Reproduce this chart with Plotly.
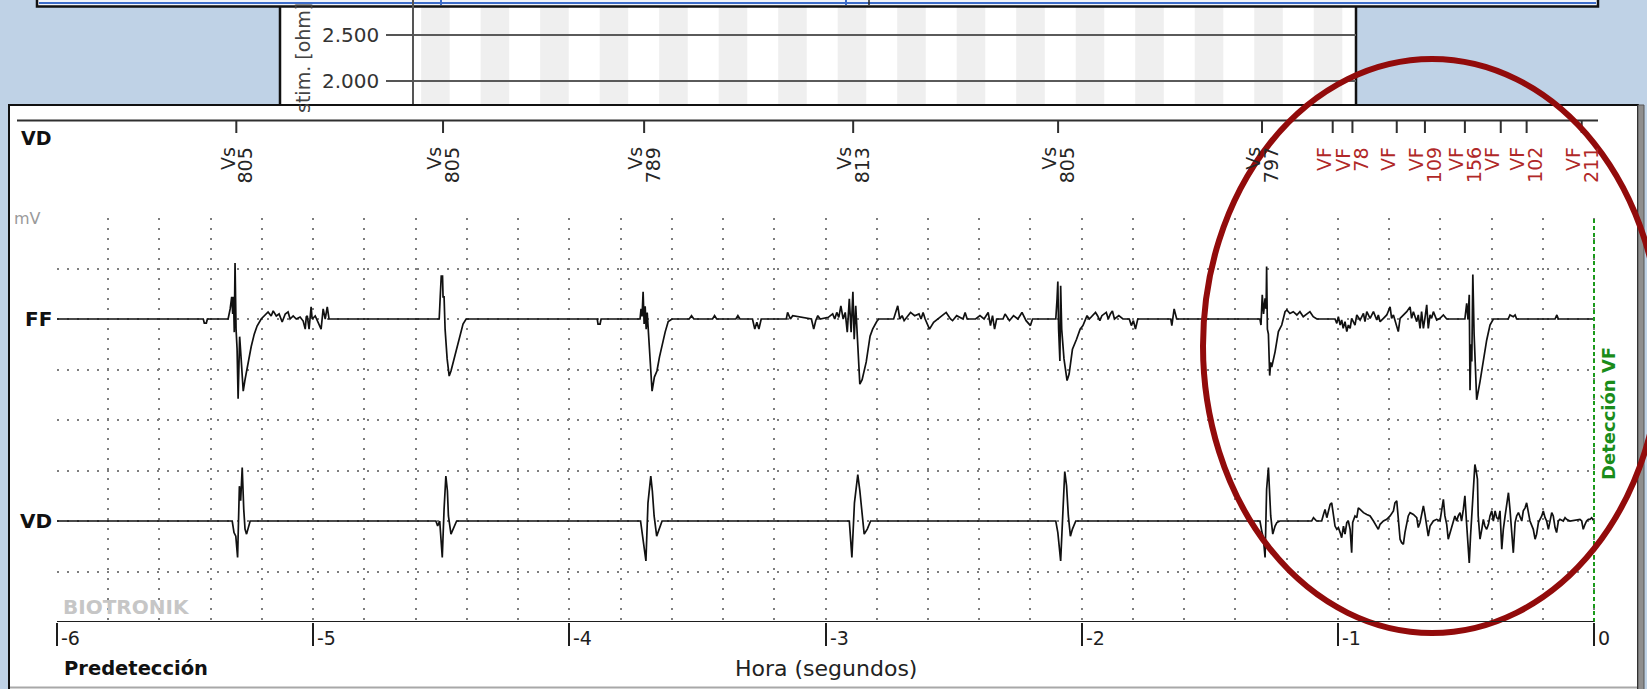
import plotly.graph_objects as go

W, H = 1647, 689


def px(x):
    return x / W


def py(y):
    return 1 - y / H


# ---------------- data ----------------
x_ticks = [-6, -5, -4, -3, -2, -1, 0]

marker_times = [-5.300, -4.493, -3.708, -2.892, -2.092, -1.296,
                -1.020, -0.943, -0.770, -0.660, -0.504, -0.364, -0.263, -0.048]
marker_kind = ["Vs", "Vs", "Vs", "Vs", "Vs", "Vs",
               "VF", "VF", "VF", "VF", "VF", "VF", "VF", "VF"]
marker_ms = ["805", "805", "789", "813", "805", "797",
             "", "78", "", "109", "156", "", "102", "211"]

ff_points = [
    (-6.000, 0), (-5.429, 0), (-5.425, -0.08), (-5.417, -0.08), (-5.413, 0),
    (-5.332, 0), (-5.324, 0.2), (-5.318, 0.44), (-5.314, 0.1), (-5.311, 0.44), (-5.308, -0.26),
    (-5.305, 1.11), (-5.301, -0.2), (-5.297, -0.6), (-5.293, -1.58), (-5.287, -0.35),
    (-5.281, -0.8), (-5.273, -1.43), (-5.266, -1.2), (-5.254, -0.85), (-5.242, -0.55),
    (-5.230, -0.3), (-5.219, -0.14), (-5.203, 0),
    (-5.191, 0.06), (-5.176, 0.14), (-5.164, 0.06), (-5.156, 0.16), (-5.144, 0.06), (-5.133, 0.1),
    (-5.121, -0.06), (-5.109, 0.1), (-5.098, 0.14), (-5.090, 0), (-5.078, 0.06), (-5.066, 0),
    (-5.051, 0.04), (-5.039, -0.04), (-5.031, -0.2), (-5.027, 0.04), (-5.023, 0.06), (-5.016, -0.2),
    (-5.008, 0.24), (-5.004, 0), (-4.992, 0.06), (-4.980, -0.06), (-4.969, -0.2), (-4.961, 0.2),
    (-4.953, 0), (-4.945, 0.24), (-4.938, 0), (-4.934, 0),
    (-4.508, 0), (-4.504, 0.44), (-4.500, 0.85), (-4.495, 0.85), (-4.493, 0.44), (-4.489, 0.44),
    (-4.485, -0.2), (-4.477, -0.79), (-4.469, -1.13), (-4.462, -1.03), (-4.450, -0.79),
    (-4.438, -0.5), (-4.426, -0.26), (-4.415, -0.1), (-4.403, 0),
    (-3.891, 0), (-3.888, -0.1), (-3.880, -0.1), (-3.876, 0),
    (-3.724, 0), (-3.720, 0.2), (-3.716, 0.05), (-3.712, 0.54), (-3.708, -0.1), (-3.704, 0.25),
    (-3.700, -0.2), (-3.696, 0.13), (-3.689, -0.54), (-3.677, -1.43), (-3.668, -1.15),
    (-3.658, -1.03), (-3.648, -0.75), (-3.638, -0.5), (-3.626, -0.26), (-3.614, -0.05), (-3.599, 0),
    (-3.532, 0), (-3.523, 0.066), (-3.514, 0), (-3.441, 0), (-3.433, 0.066), (-3.425, 0),
    (-3.350, 0), (-3.342, 0.066), (-3.334, 0), (-3.285, 0), (-3.276, -0.2), (-3.268, -0.066),
    (-3.260, -0.2), (-3.251, 0), (-3.153, 0), (-3.148, 0.13), (-3.137, 0), (-3.128, 0.066),
    (-3.055, 0), (-3.046, -0.2), (-3.038, -0.03), (-3.030, 0.066), (-3.021, 0), (-2.989, 0.033),
    (-2.972, 0.1), (-2.964, 0), (-2.956, 0.13), (-2.948, 0.033), (-2.940, 0.26), (-2.931, 0),
    (-2.923, 0.13), (-2.915, -0.26), (-2.907, 0.4),
    (-2.900, -0.26), (-2.893, 0.54), (-2.888, -0.4), (-2.882, 0.26), (-2.874, -0.6),
    (-2.866, -1.29), (-2.857, -1.2), (-2.841, -0.85), (-2.826, -0.34), (-2.816, -0.2),
    (-2.800, -0.05), (-2.792, 0),
    (-2.734, 0), (-2.718, 0.26), (-2.710, 0), (-2.701, 0.066), (-2.693, -0.033), (-2.668, 0.13),
    (-2.652, 0.066), (-2.635, 0.1), (-2.627, 0), (-2.619, 0.13), (-2.611, 0), (-2.594, -0.2),
    (-2.578, -0.066), (-2.562, 0), (-2.545, 0.066), (-2.529, 0.13), (-2.512, 0), (-2.504, -0.033),
    (-2.488, 0.066), (-2.463, 0), (-2.455, 0.13), (-2.447, 0), (-2.414, 0), (-2.397, 0.066),
    (-2.381, 0), (-2.365, 0.13), (-2.356, -0.13), (-2.348, 0.066), (-2.340, -0.2), (-2.332, 0),
    (-2.307, 0), (-2.299, 0.1), (-2.282, -0.033), (-2.266, 0.066), (-2.249, 0), (-2.233, 0.13),
    (-2.217, -0.033), (-2.200, -0.13), (-2.192, 0), (-2.101, 0),
    (-2.096, 0.4), (-2.093, 0.74), (-2.090, -0.2), (-2.085, -0.83), (-2.082, 0.66),
    (-2.078, -0.2), (-2.069, -0.79), (-2.057, -1.22), (-2.049, -1.09), (-2.036, -0.6),
    (-2.020, -0.4), (-2.006, -0.2), (-1.995, -0.13), (-1.983, 0),
    (-1.979, 0.066), (-1.970, 0), (-1.954, 0.1), (-1.946, 0.13), (-1.938, 0.066), (-1.929, -0.033),
    (-1.921, 0.066), (-1.904, 0.13), (-1.896, 0), (-1.888, 0.1), (-1.880, 0.16), (-1.872, 0),
    (-1.855, 0.066), (-1.839, 0), (-1.814, 0), (-1.806, -0.13), (-1.798, -0.033), (-1.790, -0.2),
    (-1.781, 0), (-1.652, 0), (-1.648, -0.13), (-1.639, 0.2), (-1.629, 0),
    (-1.304, 0), (-1.300, -0.12), (-1.295, 0.48), (-1.290, 0.1), (-1.284, 0.41), (-1.280, 0.2),
    (-1.278, 1.04), (-1.275, -0.2), (-1.271, -0.3), (-1.266, -1.12), (-1.262, -0.86),
    (-1.258, -0.95), (-1.245, -0.65), (-1.232, -0.25), (-1.219, -0.12), (-1.206, 0.145),
    (-1.199, 0.18), (-1.187, 0.11), (-1.174, 0.145), (-1.160, 0.08), (-1.148, 0.145),
    (-1.135, 0.046), (-1.121, 0.11), (-1.109, 0.145), (-1.096, 0.046), (-1.082, 0),
    (-1.011, 0), (-1.004, -0.086), (-0.998, 0.046), (-0.991, -0.12), (-0.985, -0.02),
    (-0.979, -0.185), (-0.972, -0.053), (-0.965, -0.25), (-0.959, -0.12), (-0.952, -0.185),
    (-0.946, 0.013), (-0.933, -0.12), (-0.926, 0.08), (-0.913, -0.02), (-0.900, 0.11),
    (-0.894, -0.053), (-0.887, 0.145), (-0.874, 0.013), (-0.861, 0.145), (-0.848, -0.02),
    (-0.842, 0.08), (-0.835, -0.053), (-0.822, 0.013), (-0.809, 0.08), (-0.796, 0.24),
    (-0.790, 0.013), (-0.783, 0.08), (-0.770, -0.12), (-0.764, -0.25), (-0.757, 0.013),
    (-0.744, 0.08), (-0.731, 0.145), (-0.718, 0.24), (-0.712, 0.013), (-0.705, 0.145),
    (-0.692, -0.053), (-0.686, 0.08), (-0.679, -0.185), (-0.673, 0.145), (-0.666, -0.185),
    (-0.660, 0.013), (-0.653, 0.28), (-0.647, -0.185), (-0.640, 0.08), (-0.634, 0.013),
    (-0.627, 0.145), (-0.614, -0.02), (-0.601, 0.013), (-0.588, 0.08), (-0.575, 0),
    (-0.504, 0), (-0.497, 0.31), (-0.492, 0), (-0.487, 0.48), (-0.484, -1.41), (-0.480, -0.5),
    (-0.477, -0.84), (-0.473, 0.88), (-0.468, -0.3), (-0.458, -1.6), (-0.445, -1.24),
    (-0.432, -0.84), (-0.419, -0.42), (-0.406, -0.12), (-0.393, 0),
    (-0.335, 0), (-0.328, 0.08), (-0.315, 0.046), (-0.308, 0.08), (-0.302, 0),
    (-0.152, 0), (-0.145, 0.08), (-0.139, 0), (0.000, 0),
]

vd_points = [
    (-6.000, 0),
    (-5.316, 0), (-5.309, -0.23), (-5.302, -0.3), (-5.295, -0.72), (-5.291, -0.1), (-5.288, 0.69),
    (-5.283, 0.4), (-5.277, 1.06), (-5.271, 0.23), (-5.266, -0.16), (-5.260, -0.26),
    (-5.253, -0.1), (-5.246, 0),
    (-4.521, 0), (-4.514, -0.1), (-4.506, 0), (-4.496, -0.72), (-4.489, 0.23), (-4.482, 0.89),
    (-4.476, 0.6), (-4.472, 0.1), (-4.462, -0.26), (-4.454, -0.16), (-4.440, 0),
    (-3.722, 0), (-3.712, -0.43), (-3.701, -0.79), (-3.693, 0.36), (-3.682, 0.89), (-3.676, 0.6),
    (-3.669, 0.1), (-3.659, -0.3), (-3.649, -0.16), (-3.638, 0),
    (-2.907, 0), (-2.897, -0.72), (-2.887, 0.36), (-2.874, 0.92), (-2.866, 0.6), (-2.857, 0.1),
    (-2.849, -0.26), (-2.837, -0.16), (-2.824, 0),
    (-2.101, 0), (-2.093, -0.23), (-2.082, -0.79), (-2.073, 0.36), (-2.066, 0.98), (-2.059, 0.7),
    (-2.052, 0.1), (-2.044, -0.3), (-2.036, -0.16), (-2.023, 0),
    (-1.304, 0), (-1.297, -0.2), (-1.291, -0.33), (-1.284, -0.72), (-1.278, 0.63), (-1.271, 1.06),
    (-1.267, 0.7), (-1.262, 0.1), (-1.254, -0.26), (-1.245, -0.1), (-1.238, -0.03), (-1.226, 0),
    (-1.102, 0), (-1.095, 0.066), (-1.083, 0), (-1.063, 0), (-1.056, 0.13), (-1.050, 0.23),
    (-1.043, 0.066), (-1.030, 0.33), (-1.024, 0.36), (-1.017, 0.1), (-1.011, -0.1),
    (-1.004, -0.165), (-0.998, -0.13), (-0.991, -0.23), (-0.985, -0.33), (-0.978, -0.1),
    (-0.972, -0.26), (-0.965, -0.03), (-0.959, 0), (-0.952, -0.165), (-0.946, -0.63),
    (-0.942, -0.03), (-0.933, 0.1), (-0.926, 0.066), (-0.920, 0.26), (-0.913, 0.23),
    (-0.900, 0.165), (-0.887, 0.13), (-0.874, 0.1), (-0.861, 0), (-0.848, -0.1),
    (-0.842, -0.165), (-0.835, -0.066), (-0.822, 0), (-0.809, 0.033), (-0.796, 0.1),
    (-0.783, 0.2), (-0.777, 0.36), (-0.770, 0.4), (-0.764, 0.1), (-0.757, -0.36),
    (-0.751, -0.43), (-0.744, -0.46), (-0.738, -0.23), (-0.731, -0.03), (-0.725, 0.1),
    (-0.718, 0.165), (-0.705, 0.13), (-0.692, 0.066), (-0.686, -0.13), (-0.679, -0.03),
    (-0.673, 0.1), (-0.666, 0.3), (-0.660, 0.13), (-0.653, -0.13), (-0.647, -0.3),
    (-0.640, -0.1), (-0.627, 0), (-0.614, 0.033), (-0.601, 0), (-0.595, 0.2), (-0.588, 0.43),
    (-0.582, 0.1), (-0.575, -0.066), (-0.569, -0.36), (-0.562, -0.23), (-0.556, -0.1),
    (-0.549, 0), (-0.543, 0.1), (-0.536, 0), (-0.530, 0.1), (-0.523, 0.165), (-0.517, 0),
    (-0.510, 0.23), (-0.504, 0.5), (-0.498, 0), (-0.491, -0.56), (-0.487, -0.83),
    (-0.482, -0.3), (-0.478, 0.033), (-0.471, 0.83), (-0.465, 1.12), (-0.461, 1.02),
    (-0.455, 0.83), (-0.452, 0.1), (-0.445, -0.36), (-0.438, -0.165), (-0.432, 0.033),
    (-0.426, -0.1), (-0.419, -0.165), (-0.412, -0.066), (-0.406, 0.1), (-0.399, 0.2),
    (-0.393, 0), (-0.386, 0.2), (-0.380, 0.066), (-0.373, 0.033), (-0.367, 0.2),
    (-0.360, -0.56), (-0.354, -0.165), (-0.347, 0.1), (-0.341, 0.36), (-0.334, 0.56),
    (-0.328, 0.23), (-0.321, -0.165), (-0.315, -0.63), (-0.308, -0.03), (-0.302, 0.1),
    (-0.295, 0.165), (-0.289, 0.066), (-0.282, 0), (-0.276, 0.2), (-0.269, 0.26),
    (-0.263, 0.36), (-0.256, 0.2), (-0.250, 0), (-0.237, -0.165), (-0.230, -0.36),
    (-0.224, -0.26), (-0.217, -0.03), (-0.204, 0.1), (-0.198, 0.2), (-0.191, 0.066),
    (-0.185, 0), (-0.178, -0.165), (-0.172, 0), (-0.165, 0.165), (-0.159, 0.1),
    (-0.152, -0.13), (-0.146, -0.23), (-0.139, 0), (-0.133, 0.033), (-0.120, 0),
    (-0.113, 0.066), (-0.107, 0.033), (-0.094, 0), (-0.055, 0.033), (-0.048, 0),
    (-0.042, -0.165), (-0.035, -0.066), (-0.029, 0), (-0.022, 0.033), (-0.016, 0.033),
    (-0.009, 0.066), (-0.003, 0), (0.000, 0),
]

channel_names = ["FF", "VD"]
channel_offsets = [6, 2]

imp_ticks = [2000, 2500]
imp_ticktext = ["2.000", "2.500"]
stripe_count = 16

# ---------------- styling constants ----------------
FONT = "DejaVu Sans"
BG = "#bfd2e6"
GRID = "#7e7e7e"
TRACE = "#111111"
X_PAD = 0.006          # tiny range pad so the detection line at 0 is not half-clipped
PX_PER_S = 256.2

fig = go.Figure()

# ECG channels
for pts, off in zip([ff_points, vd_points], channel_offsets):
    fig.add_trace(go.Scatter(
        x=[p[0] for p in pts], y=[p[1] + off for p in pts],
        mode="lines", line=dict(color=TRACE, width=1.7),
        hoverinfo="skip", showlegend=False, xaxis="x", yaxis="y"))

# VF detection line
fig.add_trace(go.Scatter(
    x=[0, 0], y=[0, 8], mode="lines",
    line=dict(color="#1a9a1a", width=2, dash="4px,3px"),
    hoverinfo="skip", showlegend=False, xaxis="x", yaxis="y"))

# marker ticks on the marker channel
mx, my = [], []
for t in marker_times:
    mx += [t, t, None]
    my += [1.0, 0.814, None]
fig.add_trace(go.Scatter(
    x=mx, y=my, mode="lines", line=dict(color="#2f2f2f", width=2),
    hoverinfo="skip", showlegend=False, xaxis="x2", yaxis="y2", cliponaxis=False))

# dummy trace to instantiate the impedance subplot
fig.add_trace(go.Scatter(x=[None], y=[None], xaxis="x3", yaxis="y3",
                         showlegend=False, hoverinfo="skip"))

annotations = []

# marker labels
for t, k, ms in zip(marker_times, marker_kind, marker_ms):
    col = "#262626" if k == "Vs" else "#b02828"
    for txt, sh in ((k, -9), (ms, 9)):
        if not txt:
            continue
        annotations.append(dict(
            x=t, y=0.64, xref="x2", yref="y2", text=txt, showarrow=False,
            textangle=-90, xanchor="center", yanchor="top", xshift=sh,
            font=dict(family=FONT, size=19, color=col)))

# x tick labels
for v in x_ticks:
    annotations.append(dict(
        x=v, y=py(638), xref="x", yref="paper", text=str(v), showarrow=False,
        xanchor="left", yanchor="middle", xshift=2,
        font=dict(family=FONT, size=19, color="#1e1e1e")))

# channel names
for name, off in zip(channel_names, channel_offsets):
    annotations.append(dict(
        x=px(54), y=off, xref="paper", yref="y", text="<b>%s</b>" % name,
        showarrow=False, xanchor="right", yanchor="middle",
        font=dict(family=FONT, size=20, color="#111")))

annotations += [
    dict(x=px(19), y=py(138), xref="paper", yref="paper", text="<b>VD</b>",
         showarrow=False, xanchor="left", yanchor="middle",
         font=dict(family=FONT, size=19, color="#111")),
    dict(x=px(12), y=8, xref="paper", yref="y", text="mV", showarrow=False,
         xanchor="left", yanchor="middle",
         font=dict(family=FONT, size=16, color="#9a9a9a")),
    dict(x=px(61), y=py(607), xref="paper", yref="paper", text="<b>BIOTRONIK</b>",
         showarrow=False, xanchor="left", yanchor="middle",
         font=dict(family=FONT, size=20, color="#c6c6c6")),
    dict(x=px(62), y=py(668), xref="paper", yref="paper", text="<b>Predetección</b>",
         showarrow=False, xanchor="left", yanchor="middle",
         font=dict(family=FONT, size=19.5, color="#111")),
    dict(x=-3, y=py(668), xref="x", yref="paper", text="Hora (segundos)",
         showarrow=False, xanchor="center", yanchor="middle",
         font=dict(family=FONT, size=22, color="#222")),
    dict(x=px(1608), y=py(414), xref="paper", yref="paper", text="<b>Detección VF</b>",
         showarrow=False, textangle=-90, xanchor="center", yanchor="middle",
         font=dict(family=FONT, size=18, color="#1a8c1a")),
    dict(x=px(303), y=py(58), xref="paper", yref="paper", text="stim. [ohm]",
         showarrow=False, textangle=-90, xanchor="center", yanchor="middle",
         font=dict(family=FONT, size=19, color="#444")),
]

shapes = []
# background impedance window
shapes.append(dict(type="rect", xref="paper", yref="paper", layer="below",
                   x0=px(280), x1=px(1356), y0=py(112), y1=py(-5),
                   fillcolor="white", line=dict(color="#111", width=2.5)))
for k in range(stripe_count):
    shapes.append(dict(type="rect", xref="x3", yref="y3 domain", layer="below",
                       x0=k + 0.12, x1=k + 0.6, y0=0, y1=1,
                       fillcolor="#efefef", line=dict(width=0)))
# top bar
shapes.append(dict(type="rect", xref="paper", yref="paper", layer="below",
                   x0=px(37), x1=px(1598), y0=py(6.5), y1=py(-4),
                   fillcolor="#f2f5fb", line=dict(color="#111", width=2.5)))
shapes.append(dict(type="line", xref="paper", yref="paper", layer="below",
                   x0=px(39), x1=px(1596), y0=py(3), y1=py(3),
                   line=dict(color="#3d6cc8", width=2)))
for bx in (441, 846):
    shapes.append(dict(type="line", xref="paper", yref="paper", layer="below",
                       x0=px(bx), x1=px(bx), y0=py(0), y1=py(5),
                       line=dict(color="#3d6cc8", width=2)))
shapes.append(dict(type="line", xref="paper", yref="paper", layer="below",
                   x0=px(869), x1=px(869), y0=py(0), y1=py(5),
                   line=dict(color="#222", width=1.5)))
# main window
shapes.append(dict(type="rect", xref="paper", yref="paper", layer="below",
                   x0=px(9), x1=px(1638), y0=py(700), y1=py(105),
                   fillcolor="white", line=dict(color="#111", width=2)))
shapes.append(dict(type="rect", xref="paper", yref="paper", layer="below",
                   x0=px(1638), x1=px(1644), y0=py(700), y1=py(105),
                   fillcolor="#8e8e8e", line=dict(color="#555", width=1)))
shapes.append(dict(type="line", xref="paper", yref="paper", layer="below",
                   x0=px(10), x1=px(1637), y0=py(687.5), y1=py(687.5),
                   line=dict(color="#a8a8a8", width=2)))
# marker channel baseline
shapes.append(dict(type="line", xref="paper", yref="paper", layer="below",
                   x0=px(17), x1=px(1598), y0=py(120.5), y1=py(120.5),
                   line=dict(color="#2f2f2f", width=2)))
# highlight ellipse
shapes.append(dict(type="circle", xref="paper", yref="paper", layer="above",
                   x0=px(1203), x1=px(1661), y0=py(633), y1=py(59),
                   line=dict(color="#920b0b", width=6)))

x_dom = [px(57), px(1594 + X_PAD * PX_PER_S)]
x_rng = [-6, X_PAD]
dotted = "2px,8px"
fig.update_layout(
    width=W, height=H, margin=dict(l=0, r=0, t=0, b=0),
    paper_bgcolor=BG, plot_bgcolor="rgba(0,0,0,0)",
    showlegend=False, hovermode=False,
    xaxis=dict(domain=x_dom, range=x_rng, anchor="y",
               showline=False, zeroline=False,
               ticks="outside", ticklen=23, tickwidth=2, tickcolor="#1e1e1e",
               tickvals=x_ticks, showticklabels=False,
               showgrid=True, gridcolor=GRID, gridwidth=1.6, griddash=dotted,
               minor=dict(dtick=0.2, tick0=0, showgrid=True, gridcolor=GRID,
                          gridwidth=1.6, griddash=dotted, ticks=""),
               fixedrange=True),
    yaxis=dict(domain=[py(622), py(218)], range=[0, 8], anchor="x",
               dtick=1, tick0=0, showgrid=True, gridcolor=GRID, gridwidth=1.6,
               griddash=dotted, showticklabels=False, ticks="", zeroline=False,
               showline=False, fixedrange=True),
    xaxis2=dict(domain=x_dom, range=x_rng, anchor="y2",
                matches="x", visible=False, fixedrange=True),
    yaxis2=dict(domain=[py(190), py(120)], range=[0, 1], anchor="x2",
                visible=False, fixedrange=True),
    xaxis3=dict(domain=[px(414), px(1356)], range=[0, 15.83], anchor="y3",
                visible=False, fixedrange=True),
    yaxis3=dict(domain=[py(104), py(0)], range=[1750, 2880], anchor="x3",
                tickvals=imp_ticks, ticktext=imp_ticktext, ticks="outside",
                ticklen=26, tickwidth=2, tickcolor="#555", ticklabelstandoff=3,
                showline=True, linecolor="#555", linewidth=1.5,
                showgrid=True, gridcolor="#5a5a5a", gridwidth=2, zeroline=False,
                tickfont=dict(family=FONT, size=20, color="#333"), fixedrange=True),
    annotations=annotations,
    shapes=shapes,
)

# time axis baseline from -6 s to 0 s
shapes_axis = dict(type="line", xref="x", yref="y", layer="above",
                   x0=x_ticks[0], x1=x_ticks[-1], y0=0, y1=0,
                   line=dict(color="#1e1e1e", width=2))
fig.add_shape(**shapes_axis)

fig.write_html("out.html", config={"displayModeBar": False},
               post_script="document.body.style.margin='0';document.body.style.overflow='hidden';")
